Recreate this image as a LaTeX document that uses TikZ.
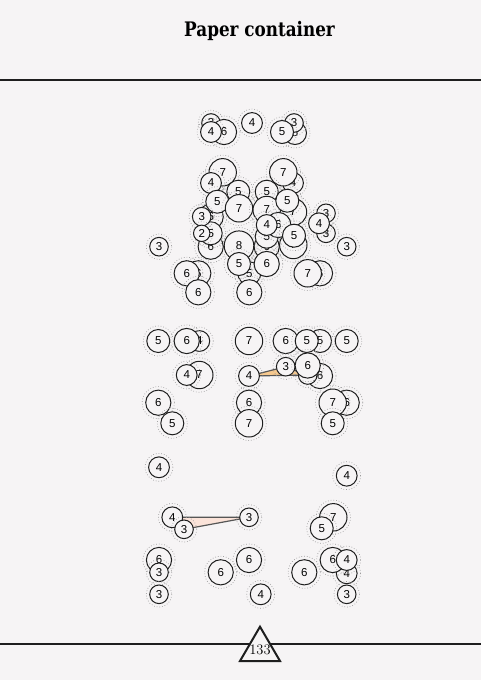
\documentclass[tikz,border=0pt]{standalone}
\usepackage{fontspec}
\usetikzlibrary{calc}
\newfontfamily\titlefont{DejaVu Serif}[FakeStretch=0.84]
\newfontfamily\bubfont{Liberation Sans}
\definecolor{paper}{HTML}{F6F4F5}
\definecolor{ink}{HTML}{1E1E1E}
\definecolor{halogray}{HTML}{9C9C9C}
\definecolor{orangefill}{HTML}{F6C88E}
\definecolor{pinkfill}{HTML}{FBE3D9}
\tikzset{
	bubble/.style={circle, draw=ink, line width=1pt, fill=paper,
		inner sep=0pt, font=\bubfont\fontsize{11.5}{11.5}\selectfont},
	halo/.style={draw=halogray, dotted, line width=0.7pt},
	rule/.style={draw=ink, line width=2pt},
	fanlink/.style={draw=ink!75, line width=1.2pt, line join=round},
	titletext/.style={font=\titlefont\bfseries\fontsize{20}{20}\selectfont},
	pagenum/.style={font=\fontsize{14.5}{14.5}\selectfont, inner sep=0pt}
}
% name, x, y, number
\newcommand{\bub}[4]{%
	\pgfmathsetmacro{\bubr}{6+1.1*#4}%
	\draw[halo] (#2,#3) circle[radius=\bubr+3.5];
	\node[bubble, minimum size=2*\bubr] (#1) at (#2,#3) {#4};
}

\begin{document}
\begin{tikzpicture}[x=1pt, y=-1pt]
	
	%% page
	\fill[paper] (0,0) rectangle (481,680);
	\useasboundingbox (0,0) rectangle (481,680);
	\node[titletext] (title) at (259.5,31) {Paper container};
	\coordinate (topL) at (0,80);
	\coordinate (topR) at (481,80);
	\draw[rule] (topL) -- (topR);
	
	%% top row
	\bub{ta}{211}{123}{3}
	\bub{tb}{224}{132}{6}
	\bub{tc}{211}{132}{4}
	\bub{td}{252}{123}{4}
	\bub{te}{295}{133}{5}
	\bub{tf}{294}{123}{3}
	\bub{tg}{282}{132}{5}
	
	%% cluster
	\bub{ca}{293}{183}{4}
	\bub{cb}{222.7}{172.3}{7}
	\bub{cc}{283.3}{172.3}{7}
	\bub{cd}{211}{183}{4}
	\bub{ce}{293}{212}{7}
	\bub{cf}{238.3}{191.7}{5}
	\bub{cg}{266.7}{191.7}{5}
	\bub{ch}{210.7}{216.7}{6}
	\bub{ci}{217.3}{201.7}{5}
	\bub{cj}{239}{208.3}{7}
	\bub{ck}{266.7}{210}{7}
	\bub{cl}{287.3}{200.7}{5}
	\bub{cm}{210.7}{246.7}{6}
	\bub{cn}{210.7}{233.3}{5}
	\bub{co}{201.7}{216.7}{3}
	\bub{cp}{201.7}{233.3}{2}
	\bub{cq}{266.7}{246.7}{6}
	\bub{cr}{266.7}{236.7}{5}
	\bub{cs}{278.3}{225}{6}
	\bub{ct}{293.3}{245}{7}
	\bub{cu}{294}{235.7}{5}
	\bub{cv}{266.7}{225}{4}
	\bub{cw}{326}{213.3}{3}
	\bub{cx}{326}{233.3}{3}
	\bub{cy}{319}{223.3}{4}
	\bub{cz}{159}{246.7}{3}
	\bub{dA}{346.7}{246.7}{3}
	\bub{dB}{239}{245.7}{8}
	\bub{dC}{249.3}{273.3}{5}
	\bub{dD}{239}{264}{5}
	\bub{dE}{266.7}{264}{6}
	\bub{dF}{198.3}{273.3}{6}
	\bub{dG}{186.7}{273.3}{6}
	\bub{dH}{198.3}{292.3}{6}
	\bub{dI}{249.3}{292.3}{6}
	\bub{dJ}{320}{273.3}{6}
	\bub{dK}{307.7}{273.3}{7}
	
	%% middle block
	\bub{ma}{158.3}{341}{5}
	\bub{mb}{199.3}{341}{4}
	\bub{mc}{186.7}{341}{6}
	\bub{md}{249}{341}{7}
	\bub{me}{285.7}{341}{6}
	\bub{mf}{320}{341}{5}
	\bub{mg}{306.7}{341}{5}
	\bub{mh}{346.7}{341}{5}
	\bub{mi}{199.3}{375}{7}
	\bub{mj}{186.7}{375}{4}
	\coordinate (mkc) at (249,376);
	\coordinate (mlc) at (285.7,366.7);
	\coordinate (mnc) at (307.7,375);
	\filldraw[fanlink, fill=orangefill] (mkc) -- (mlc) -- (mnc) -- cycle;
	\bub{mk}{249}{376}{4}
	\bub{mm}{320}{376}{6}
	\bub{mn}{307.7}{375}{3}
	\bub{ml}{285.7}{366.7}{3}
	\bub{mo}{307.7}{365.5}{6}
	\bub{mp}{158.3}{402.7}{6}
	\bub{mq}{172.3}{423.3}{5}
	\bub{mr}{249}{402.7}{6}
	\bub{ms}{249}{423.3}{7}
	\bub{mt}{346.7}{402.7}{6}
	\bub{mu}{332.7}{402.7}{7}
	\bub{mv}{332.7}{423.3}{5}
	
	%% bottom block
	\bub{ba}{159}{467.3}{4}
	\bub{bb}{346.7}{475.7}{4}
	\coordinate (bcc) at (172.3,517.3);
	\coordinate (bdc) at (184,529.3);
	\coordinate (bec) at (249,517.3);
	\filldraw[fanlink, fill=pinkfill] (bcc) -- (bec) -- (bdc) -- cycle;
	\bub{bc}{172.3}{517.3}{4}
	\bub{bd}{184}{529.3}{3}
	\bub{be}{249}{517.3}{3}
	\bub{bf}{333.3}{517.3}{7}
	\bub{bg}{321.7}{528.3}{5}
	\bub{bh}{159}{560}{6}
	\bub{bi}{159}{572.3}{3}
	\bub{bj}{159}{594.3}{3}
	\bub{bk}{220.7}{572.3}{6}
	\bub{bl}{249}{560}{6}
	\bub{bm}{260.7}{594.3}{4}
	\bub{bn}{304.3}{572.3}{6}
	\bub{bo}{346.7}{573.3}{4}
	\bub{bp}{332.7}{560}{6}
	\bub{bq}{346.7}{560}{4}
	\bub{br}{346.7}{594.3}{3}
	
	%% footer with page number
	\coordinate (botL) at (0,644);
	\coordinate (botR) at (481,644);
	\draw[rule] (botL) -- (botR);
	\coordinate (pgc) at (260,649.5);
	\filldraw[rule, fill=paper, line join=miter]
	($(pgc)+(0,-22.8)$) -- ($(pgc)+(20,11.5)$) -- ($(pgc)+(-20,11.5)$) -- cycle;
	\node[pagenum] (pg) at (pgc) {133};
	
\end{tikzpicture}
\end{document}
